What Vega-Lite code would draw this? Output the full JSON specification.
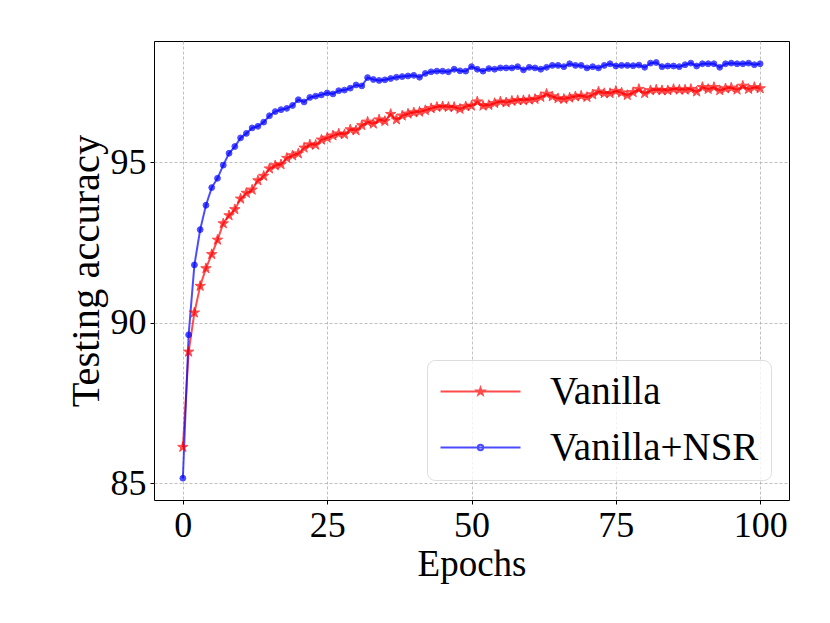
{
  "$schema": "https://vega.github.io/schema/vega-lite/v6.json",
  "width": 635,
  "height": 459,
  "autosize": "none",
  "padding": {"left": 154, "top": 41, "right": 41, "bottom": 123},
  "background": "white",
  "config": {
    "font": "Liberation Serif",
    "view": {"stroke": "#000000", "strokeWidth": 1},
    "axis": {
      "domain": false,
      "grid": true,
      "gridColor": "#b0b0b0",
      "gridDash": [3, 2],
      "gridWidth": 0.8,
      "tickColor": "#000000",
      "tickSize": 4,
      "tickWidth": 1,
      "labelFont": "Liberation Serif",
      "labelFontSize": 36,
      "labelColor": "#000000",
      "labelPadding": 4,
      "titleFont": "Liberation Serif",
      "titleFontWeight": "normal",
      "titleColor": "#000000"
    },
    "legend": {
      "orient": "none",
      "legendX": 273,
      "legendY": 319,
      "padding": 12,
      "cornerRadius": 8,
      "strokeColor": "#dddddd",
      "fillColor": "rgba(255,255,255,0.8)",
      "labelFont": "Liberation Serif",
      "labelFontSize": 39,
      "labelColor": "#000000",
      "labelLimit": 400,
      "labelOffset": 50,
      "rowPadding": 16,
      "symbolSize": 1296,
      "symbolOffset": 22,
      "symbolStrokeWidth": 2
    }
  },
  "data": {
    "values": [
      {"epoch": 0, "Vanilla": 86.12, "Vanilla+NSR": 85.15},
      {"epoch": 1, "Vanilla": 89.09, "Vanilla+NSR": 89.62},
      {"epoch": 2, "Vanilla": 90.31, "Vanilla+NSR": 91.80},
      {"epoch": 3, "Vanilla": 91.14, "Vanilla+NSR": 92.90},
      {"epoch": 4, "Vanilla": 91.69, "Vanilla+NSR": 93.66},
      {"epoch": 5, "Vanilla": 92.13, "Vanilla+NSR": 94.21},
      {"epoch": 6, "Vanilla": 92.58, "Vanilla+NSR": 94.50},
      {"epoch": 7, "Vanilla": 93.09, "Vanilla+NSR": 94.91},
      {"epoch": 8, "Vanilla": 93.34, "Vanilla+NSR": 95.28},
      {"epoch": 9, "Vanilla": 93.53, "Vanilla+NSR": 95.49},
      {"epoch": 10, "Vanilla": 93.86, "Vanilla+NSR": 95.76},
      {"epoch": 11, "Vanilla": 94.04, "Vanilla+NSR": 95.90},
      {"epoch": 12, "Vanilla": 94.14, "Vanilla+NSR": 96.07},
      {"epoch": 13, "Vanilla": 94.43, "Vanilla+NSR": 96.12},
      {"epoch": 14, "Vanilla": 94.57, "Vanilla+NSR": 96.25},
      {"epoch": 15, "Vanilla": 94.80, "Vanilla+NSR": 96.45},
      {"epoch": 16, "Vanilla": 94.90, "Vanilla+NSR": 96.58},
      {"epoch": 17, "Vanilla": 94.93, "Vanilla+NSR": 96.64},
      {"epoch": 18, "Vanilla": 95.13, "Vanilla+NSR": 96.68},
      {"epoch": 19, "Vanilla": 95.21, "Vanilla+NSR": 96.77},
      {"epoch": 20, "Vanilla": 95.27, "Vanilla+NSR": 96.95},
      {"epoch": 21, "Vanilla": 95.45, "Vanilla+NSR": 96.88},
      {"epoch": 22, "Vanilla": 95.55, "Vanilla+NSR": 97.02},
      {"epoch": 23, "Vanilla": 95.54, "Vanilla+NSR": 97.06},
      {"epoch": 24, "Vanilla": 95.70, "Vanilla+NSR": 97.10},
      {"epoch": 25, "Vanilla": 95.76, "Vanilla+NSR": 97.16},
      {"epoch": 26, "Vanilla": 95.83, "Vanilla+NSR": 97.13},
      {"epoch": 27, "Vanilla": 95.89, "Vanilla+NSR": 97.23},
      {"epoch": 28, "Vanilla": 95.87, "Vanilla+NSR": 97.25},
      {"epoch": 29, "Vanilla": 96.02, "Vanilla+NSR": 97.31},
      {"epoch": 30, "Vanilla": 95.99, "Vanilla+NSR": 97.41},
      {"epoch": 31, "Vanilla": 96.15, "Vanilla+NSR": 97.38},
      {"epoch": 32, "Vanilla": 96.26, "Vanilla+NSR": 97.64},
      {"epoch": 33, "Vanilla": 96.20, "Vanilla+NSR": 97.58},
      {"epoch": 34, "Vanilla": 96.33, "Vanilla+NSR": 97.55},
      {"epoch": 35, "Vanilla": 96.28, "Vanilla+NSR": 97.57},
      {"epoch": 36, "Vanilla": 96.50, "Vanilla+NSR": 97.61},
      {"epoch": 37, "Vanilla": 96.33, "Vanilla+NSR": 97.65},
      {"epoch": 38, "Vanilla": 96.45, "Vanilla+NSR": 97.67},
      {"epoch": 39, "Vanilla": 96.51, "Vanilla+NSR": 97.69},
      {"epoch": 40, "Vanilla": 96.55, "Vanilla+NSR": 97.71},
      {"epoch": 41, "Vanilla": 96.57, "Vanilla+NSR": 97.65},
      {"epoch": 42, "Vanilla": 96.62, "Vanilla+NSR": 97.77},
      {"epoch": 43, "Vanilla": 96.68, "Vanilla+NSR": 97.82},
      {"epoch": 44, "Vanilla": 96.72, "Vanilla+NSR": 97.84},
      {"epoch": 45, "Vanilla": 96.74, "Vanilla+NSR": 97.84},
      {"epoch": 46, "Vanilla": 96.72, "Vanilla+NSR": 97.82},
      {"epoch": 47, "Vanilla": 96.72, "Vanilla+NSR": 97.90},
      {"epoch": 48, "Vanilla": 96.66, "Vanilla+NSR": 97.85},
      {"epoch": 49, "Vanilla": 96.74, "Vanilla+NSR": 97.84},
      {"epoch": 50, "Vanilla": 96.76, "Vanilla+NSR": 97.98},
      {"epoch": 51, "Vanilla": 96.89, "Vanilla+NSR": 97.90},
      {"epoch": 52, "Vanilla": 96.76, "Vanilla+NSR": 97.84},
      {"epoch": 53, "Vanilla": 96.78, "Vanilla+NSR": 97.92},
      {"epoch": 54, "Vanilla": 96.84, "Vanilla+NSR": 97.90},
      {"epoch": 55, "Vanilla": 96.89, "Vanilla+NSR": 97.94},
      {"epoch": 56, "Vanilla": 96.86, "Vanilla+NSR": 97.94},
      {"epoch": 57, "Vanilla": 96.91, "Vanilla+NSR": 97.94},
      {"epoch": 58, "Vanilla": 96.93, "Vanilla+NSR": 97.98},
      {"epoch": 59, "Vanilla": 96.93, "Vanilla+NSR": 97.88},
      {"epoch": 60, "Vanilla": 96.95, "Vanilla+NSR": 97.96},
      {"epoch": 61, "Vanilla": 96.97, "Vanilla+NSR": 97.94},
      {"epoch": 62, "Vanilla": 97.03, "Vanilla+NSR": 97.90},
      {"epoch": 63, "Vanilla": 97.13, "Vanilla+NSR": 97.96},
      {"epoch": 64, "Vanilla": 97.05, "Vanilla+NSR": 98.02},
      {"epoch": 65, "Vanilla": 96.99, "Vanilla+NSR": 98.02},
      {"epoch": 66, "Vanilla": 96.97, "Vanilla+NSR": 97.98},
      {"epoch": 67, "Vanilla": 97.01, "Vanilla+NSR": 98.07},
      {"epoch": 68, "Vanilla": 97.05, "Vanilla+NSR": 98.02},
      {"epoch": 69, "Vanilla": 97.07, "Vanilla+NSR": 98.02},
      {"epoch": 70, "Vanilla": 97.03, "Vanilla+NSR": 97.94},
      {"epoch": 71, "Vanilla": 97.11, "Vanilla+NSR": 97.98},
      {"epoch": 72, "Vanilla": 97.20, "Vanilla+NSR": 97.94},
      {"epoch": 73, "Vanilla": 97.15, "Vanilla+NSR": 98.02},
      {"epoch": 74, "Vanilla": 97.15, "Vanilla+NSR": 98.07},
      {"epoch": 75, "Vanilla": 97.22, "Vanilla+NSR": 98.00},
      {"epoch": 76, "Vanilla": 97.17, "Vanilla+NSR": 98.02},
      {"epoch": 77, "Vanilla": 97.09, "Vanilla+NSR": 98.02},
      {"epoch": 78, "Vanilla": 97.18, "Vanilla+NSR": 98.01},
      {"epoch": 79, "Vanilla": 97.28, "Vanilla+NSR": 98.03},
      {"epoch": 80, "Vanilla": 97.15, "Vanilla+NSR": 97.96},
      {"epoch": 81, "Vanilla": 97.24, "Vanilla+NSR": 98.09},
      {"epoch": 82, "Vanilla": 97.26, "Vanilla+NSR": 98.11},
      {"epoch": 83, "Vanilla": 97.24, "Vanilla+NSR": 97.98},
      {"epoch": 84, "Vanilla": 97.24, "Vanilla+NSR": 98.00},
      {"epoch": 85, "Vanilla": 97.28, "Vanilla+NSR": 98.00},
      {"epoch": 86, "Vanilla": 97.26, "Vanilla+NSR": 97.98},
      {"epoch": 87, "Vanilla": 97.26, "Vanilla+NSR": 98.04},
      {"epoch": 88, "Vanilla": 97.28, "Vanilla+NSR": 98.09},
      {"epoch": 89, "Vanilla": 97.20, "Vanilla+NSR": 98.00},
      {"epoch": 90, "Vanilla": 97.34, "Vanilla+NSR": 98.07},
      {"epoch": 91, "Vanilla": 97.28, "Vanilla+NSR": 98.07},
      {"epoch": 92, "Vanilla": 97.34, "Vanilla+NSR": 98.07},
      {"epoch": 93, "Vanilla": 97.24, "Vanilla+NSR": 97.96},
      {"epoch": 94, "Vanilla": 97.30, "Vanilla+NSR": 98.07},
      {"epoch": 95, "Vanilla": 97.32, "Vanilla+NSR": 98.09},
      {"epoch": 96, "Vanilla": 97.26, "Vanilla+NSR": 98.07},
      {"epoch": 97, "Vanilla": 97.38, "Vanilla+NSR": 98.07},
      {"epoch": 98, "Vanilla": 97.28, "Vanilla+NSR": 98.09},
      {"epoch": 99, "Vanilla": 97.34, "Vanilla+NSR": 98.04},
      {"epoch": 100, "Vanilla": 97.30, "Vanilla+NSR": 98.07}
    ]
  },
  "transform": [
    {"fold": ["Vanilla", "Vanilla+NSR"], "as": ["method", "acc"]}
  ],
  "encoding": {
    "x": {
      "field": "epoch",
      "type": "quantitative",
      "title": "Epochs",
      "scale": {"domain": [-5, 105], "nice": false, "zero": false},
      "axis": {"values": [0, 25, 50, 75, 100], "titlePadding": 3, "titleFontSize": 37}
    },
    "y": {
      "field": "acc",
      "type": "quantitative",
      "title": "Testing accuracy",
      "scale": {"domain": [84.47, 98.78], "nice": false, "zero": false},
      "axis": {"values": [85, 90, 95], "titlePadding": 3, "titleFontSize": 40.5}
    },
    "color": {
      "field": "method",
      "type": "nominal",
      "title": null,
      "scale": {"domain": ["Vanilla", "Vanilla+NSR"], "range": ["#ff0000", "#0000ff"]}
    }
  },
  "layer": [
    {
      "mark": {"type": "line", "strokeWidth": 2, "opacity": 0.7}
    },
    {
      "transform": [{"filter": "datum.method === 'Vanilla'"}],
      "mark": {
        "type": "point",
        "filled": true,
        "opacity": 0.7,
        "size": 120,
        "stroke": "#ff0000",
        "strokeWidth": 1,
        "shape": "M0,-1L0.225,-0.309L0.951,-0.309L0.363,0.118L0.588,0.809L0,0.382L-0.588,0.809L-0.363,0.118L-0.951,-0.309L-0.225,-0.309Z"
      },
      "encoding": {"color": {"value": "#ff0000"}}
    },
    {
      "transform": [{"filter": "datum.method === 'Vanilla+NSR'"}],
      "mark": {
        "type": "point",
        "filled": true,
        "opacity": 0.7,
        "size": 34,
        "stroke": "#0000ff",
        "strokeWidth": 1,
        "shape": "circle"
      },
      "encoding": {"color": {"value": "#0000ff"}}
    },
    {
      "transform": [{"filter": "false"}],
      "mark": {"type": "point", "filled": false, "opacity": 0.7, "strokeWidth": 2},
      "encoding": {
        "shape": {
          "field": "method",
          "type": "nominal",
          "title": null,
          "scale": {
            "domain": ["Vanilla", "Vanilla+NSR"],
            "range": [
              "M-2.222,0L2.222,0M0,-0.194L0.0437,-0.06L0.1845,-0.06L0.0704,0.0229L0.1141,0.1569L0,0.0741L-0.1141,0.1569L-0.0704,0.0229L-0.1845,-0.06L-0.0437,-0.06Z",
              "M-2.222,0L2.222,0M0.15,0A0.15,0.15,0,1,1,-0.15,0A0.15,0.15,0,1,1,0.15,0Z"
            ]
          }
        }
      }
    }
  ]
}
